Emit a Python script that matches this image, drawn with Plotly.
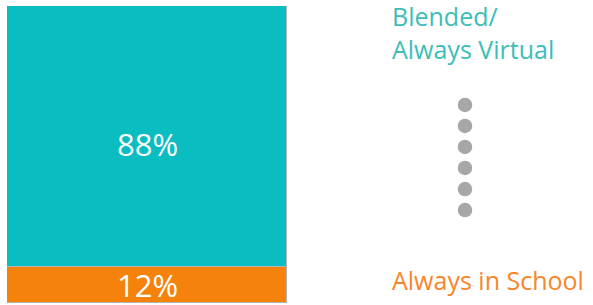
import plotly.graph_objects as go

categories = ["Students"]
series_names = ["Always in School", "Blended/<br>Always Virtual"]
series_values = [12, 88]
series_colors = ["#F5820A", "#0ABDC0"]
label_colors = ["#F7862A", "#3DBDB8"]
n_dots = 6

fig = go.Figure()
for name, val, col in zip(series_names, series_values, series_colors):
    fig.add_trace(go.Bar(
        x=categories, y=[val], name=name,
        marker=dict(color=col, line=dict(color="#B4B4B4", width=1)),
        hoverinfo="skip", showlegend=False,
    ))

# value labels
annotations = []
base = 0
for val in series_values:
    annotations.append(dict(
        x=categories[0], y=base + val / 2, xref="x", yref="y",
        text=f"{val}%", showarrow=False, yshift=-7 if val > 50 else 0,
        font=dict(family="Open Sans", size=31, color="white"),
    ))
    base += val

# right-hand labels
label_x = (390 - 287) / 300
annotations.append(dict(
    x=label_x, y=1.0, xref="x2", yref="paper", xanchor="left", yanchor="top",
    text=series_names[1], showarrow=False, align="left",
    font=dict(family="Open Sans", size=25, color=label_colors[1]), yshift=9,
))
annotations.append(dict(
    x=label_x, y=0.0, xref="x2", yref="paper", xanchor="left", yanchor="bottom",
    text=series_names[0], showarrow=False, align="left",
    font=dict(family="Open Sans", size=25, color=label_colors[0]), yshift=4,
))

# vertical dots
dot_top, dot_bottom = 0.667, 0.313
dot_y = [dot_top - i * (dot_top - dot_bottom) / (n_dots - 1) for i in range(n_dots)]
fig.add_trace(go.Scatter(
    x=[(465 - 287) / 300] * n_dots, y=dot_y, xaxis="x2", yaxis="y2", mode="markers",
    marker=dict(size=14.5, color="#A9A6A6"), hoverinfo="skip", showlegend=False,
))

bar_end = 280 / 580
fig.update_layout(
    width=593, height=305,
    margin=dict(l=7, r=6, t=6, b=2),
    barmode="stack", bargap=0,
    paper_bgcolor="white", plot_bgcolor="white",
    xaxis=dict(domain=[0, bar_end], visible=False),
    yaxis=dict(range=[0, 100], visible=False),
    xaxis2=dict(domain=[bar_end, 1], range=[0, 1], visible=False, anchor="y2"),
    yaxis2=dict(domain=[0, 1], range=[0, 1], visible=False, anchor="x2"),
    annotations=annotations,
)

fig.write_html("out.html", config={"displayModeBar": False},
               post_script="document.body.style.margin='0';")
